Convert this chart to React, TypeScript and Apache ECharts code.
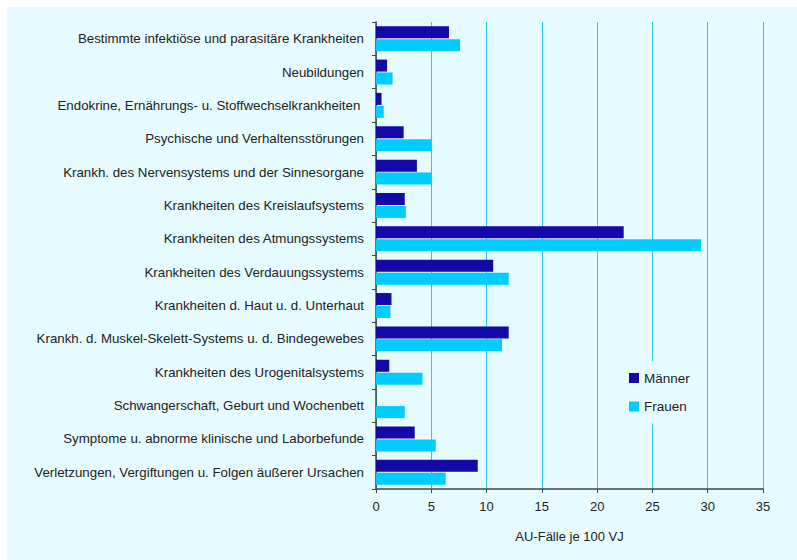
import React, { useEffect, useRef } from "react";
import * as echarts from "echarts";

const categories = [
  "Bestimmte infektiöse und parasitäre Krankheiten",
  "Neubildungen",
  "Endokrine, Ernährungs- u. Stoffwechselkrankheiten ",
  "Psychische und Verhaltensstörungen",
  "Krankh. des Nervensystems und der Sinnesorgane",
  "Krankheiten des Kreislaufsystems",
  "Krankheiten des Atmungssystems",
  "Krankheiten des Verdauungssystems",
  "Krankheiten d. Haut u. d. Unterhaut",
  "Krankh. d. Muskel-Skelett-Systems u. d. Bindegewebes",
  "Krankheiten des Urogenitalsystems",
  "Schwangerschaft, Geburt und Wochenbett",
  "Symptome u. abnorme klinische und Laborbefunde",
  "Verletzungen, Vergiftungen u. Folgen äußerer Ursachen",
];

const maenner = [6.6, 1.0, 0.5, 2.5, 3.7, 2.6, 22.4, 10.6, 1.4, 12.0, 1.2, 0, 3.5, 9.2];
const frauen = [7.6, 1.5, 0.7, 5.0, 5.0, 2.7, 29.4, 12.0, 1.3, 11.4, 4.2, 2.6, 5.4, 6.3];

const seriesNames = ["Männer", "Frauen"];
const xAxisTitle = "AU-Fälle je 100 VJ";

export default function App() {
  const ref = useRef<HTMLDivElement>(null);
  useEffect(() => {
    if (!ref.current) return;
    const chart = echarts.init(ref.current, undefined, { renderer: "svg" });
    const font = "'Liberation Sans', Arial, sans-serif";
    chart.setOption({
      animation: false,
      textStyle: { fontFamily: font },
      graphic: [
        {
          type: "rect",
          z: -10,
          shape: { x: 7, y: 7, width: 790, height: 553 },
          style: { fill: "#e6fbff" },
          silent: true,
        },
      ],
      grid: { left: 376, right: 34, top: 22, bottom: 71, containLabel: false },
      legend: {
        data: seriesNames,
        orient: "vertical",
        left: 619,
        top: 361,
        padding: [10, 12, 10, 10],
        backgroundColor: "#e6fbff",
        itemWidth: 10,
        itemHeight: 10,
        itemGap: 14.5,
        icon: "rect",
        textStyle: { fontFamily: font, fontSize: 13.5, color: "#222" },
        z: 10,
      },
      xAxis: {
        type: "value",
        min: 0,
        max: 35,
        interval: 5,
        name: xAxisTitle,
        nameLocation: "middle",
        nameGap: 41,
        nameTextStyle: { fontFamily: font, fontSize: 13, color: "#222" },
        axisLine: { show: true, lineStyle: { color: "#444", width: 1.5 } },
        axisTick: { show: true, length: 4, lineStyle: { color: "#444" } },
        axisLabel: { fontFamily: font, fontSize: 13, color: "#222", margin: 11 },
        splitLine: { show: true, lineStyle: { color: "#2cc6f0", width: 1 } },
      },
      yAxis: {
        type: "category",
        data: categories,
        inverse: true,
        axisLine: { show: true, lineStyle: { color: "#444", width: 1.5 } },
        axisTick: { show: true, length: 4, lineStyle: { color: "#444" } },
        axisLabel: { fontFamily: font, fontSize: 13.3, color: "#222", margin: 12 },
        splitLine: { show: false },
      },
      series: [
        {
          name: seriesNames[0],
          type: "bar",
          data: maenner,
          barWidth: 12,
          barGap: "8%",
          itemStyle: { color: "#1408a8" },
        },
        {
          name: seriesNames[1],
          type: "bar",
          data: frauen,
          barWidth: 12,
          barGap: "8%",
          itemStyle: { color: "#00ccff" },
        },
      ],
    });
    return () => chart.dispose();
  }, []);
  return (
    <div
      ref={ref}
      style={{ position: "absolute", left: 0, top: 0, width: 797, height: 560, background: "#ffffff" }}
    />
  );
}
